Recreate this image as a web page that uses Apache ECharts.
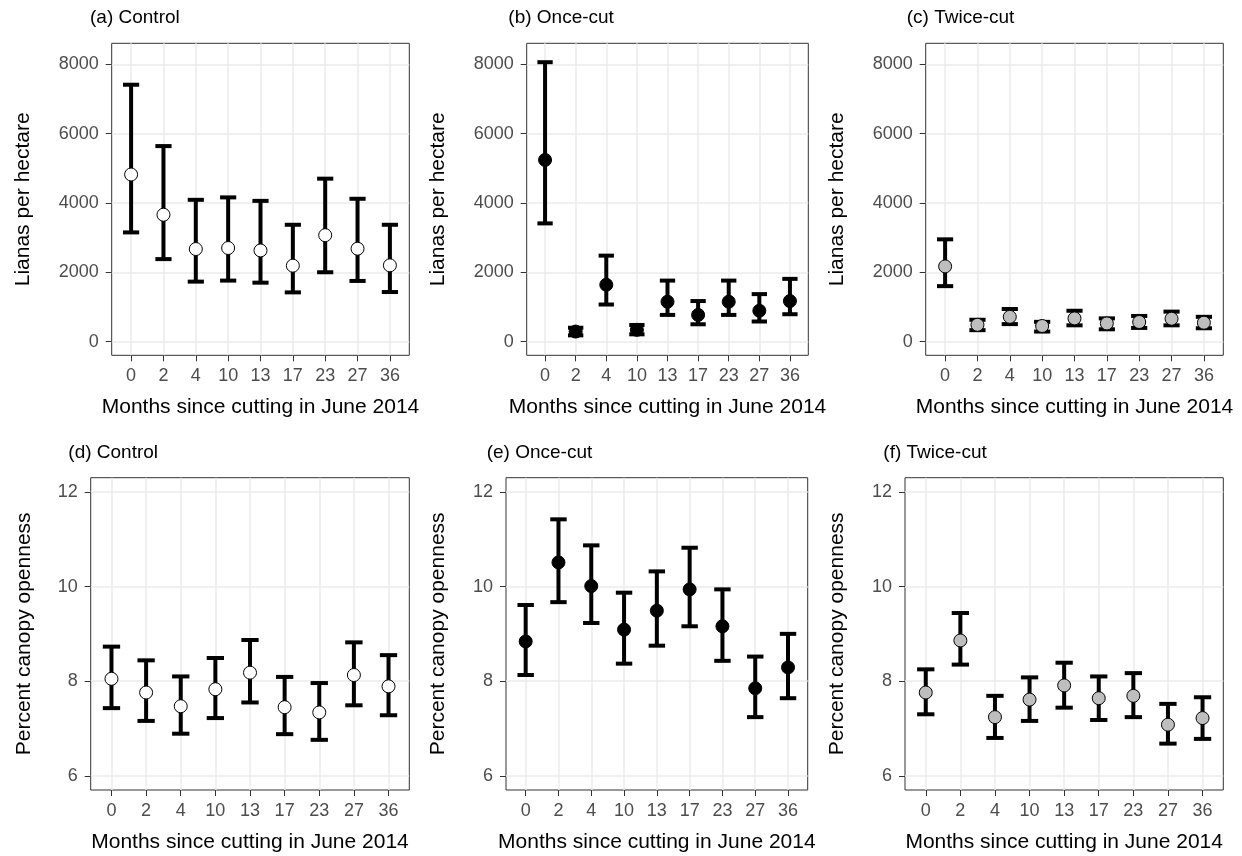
<!DOCTYPE html>
<html>
<head>
<meta charset="utf-8">
<script src="https://cdn.jsdelivr.net/npm/echarts@6/dist/echarts.min.js"></script>
<style>
  html, body { margin: 0; padding: 0; background: #ffffff; }
  #chart { width: 1242px; height: 856px; }
</style>
</head>
<body>
<div id="chart"></div>
<script>
// ---------- data ----------
const months = ['0', '2', '4', '10', '13', '17', '23', '27', '36'];

const lianaTicks = [0, 2000, 4000, 6000, 8000];
const canopyTicks = [6, 8, 10, 12];

const controlLianasMean  = [4820, 3660, 2670, 2700, 2630, 2190, 3070, 2680, 2200];
const controlLianasLower = [3150, 2380, 1730, 1760, 1700, 1420, 2000, 1750, 1430];
const controlLianasUpper = [7410, 5640, 4090, 4160, 4060, 3370, 4700, 4120, 3370];

const onceLianasMean  = [5240, 290, 1640, 340, 1150, 770, 1150, 890, 1170];
const onceLianasLower = [3410, 180, 1070, 210, 770, 500, 770, 580, 790];
const onceLianasUpper = [8060, 400, 2480, 480, 1760, 1170, 1760, 1370, 1810];

const twiceLianasMean  = [2170, 485, 715, 450, 670, 525, 565, 660, 545];
const twiceLianasLower = [1600, 330, 505, 290, 470, 355, 395, 470, 385];
const twiceLianasUpper = [2950, 630, 940, 570, 890, 670, 740, 865, 715];

const controlCanopyMean  = [8.05, 7.76, 7.47, 7.83, 8.18, 7.45, 7.34, 8.13, 7.89];
const controlCanopyLower = [7.43, 7.16, 6.89, 7.22, 7.55, 6.88, 6.76, 7.49, 7.28];
const controlCanopyUpper = [8.73, 8.44, 8.10, 8.49, 8.87, 8.09, 7.96, 8.82, 8.55];

const onceCanopyMean  = [8.84, 10.51, 10.01, 9.09, 9.49, 9.94, 9.16, 7.85, 8.29];
const onceCanopyLower = [8.13, 9.67, 9.23, 8.37, 8.75, 9.16, 8.43, 7.24, 7.64];
const onceCanopyUpper = [9.61, 11.42, 10.87, 9.87, 10.32, 10.82, 9.94, 8.52, 9.00];

const twiceCanopyMean  = [7.76, 8.86, 7.24, 7.61, 7.91, 7.64, 7.69, 7.08, 7.22];
const twiceCanopyLower = [7.30, 8.35, 6.80, 7.16, 7.44, 7.18, 7.24, 6.68, 6.78];
const twiceCanopyUpper = [8.25, 9.44, 7.69, 8.08, 8.39, 8.10, 8.17, 7.52, 7.66];

const panelTitles = ['(a) Control', '(b) Once-cut', '(c) Twice-cut',
                     '(d) Control', '(e) Once-cut', '(f) Twice-cut'];
const xTitle = 'Months since cutting in June 2014';
const yTitleLianas = 'Lianas per hectare';
const yTitleCanopy = 'Percent canopy openness';

// ---------- layout / style ----------
const FONT = '"Liberation Sans", Arial, Helvetica, sans-serif';
const panels = [
  { grid: { left: 111.7, top: 43.3, width: 297.6, height: 312 }, title: [90, 18],
    mean: controlLianasMean, lo: controlLianasLower, hi: controlLianasUpper, fill: '#ffffff',
    yMin: -395, yMax: 8605, ticks: lianaTicks, yName: yTitleLianas, yGap: 88 },
  { grid: { left: 526.7, top: 43.3, width: 281.6, height: 312 }, title: [508.3, 18],
    mean: onceLianasMean, lo: onceLianasLower, hi: onceLianasUpper, fill: '#000000',
    yMin: -395, yMax: 8605, ticks: lianaTicks, yName: yTitleLianas, yGap: 88 },
  { grid: { left: 925.7, top: 43.3, width: 297.6, height: 312 }, title: [906.7, 18],
    mean: twiceLianasMean, lo: twiceLianasLower, hi: twiceLianasUpper, fill: '#bebebe',
    yMin: -395, yMax: 8605, ticks: lianaTicks, yName: yTitleLianas, yGap: 88 },
  { grid: { left: 90.7, top: 477.7, width: 318.6, height: 312.3 }, title: [68.3, 453],
    mean: controlCanopyMean, lo: controlCanopyLower, hi: controlCanopyUpper, fill: '#ffffff',
    yMin: 5.7, yMax: 12.3, ticks: canopyTicks, yName: yTitleCanopy, yGap: 66 },
  { grid: { left: 506, top: 477.7, width: 301.7, height: 312.3 }, title: [486.7, 453],
    mean: onceCanopyMean, lo: onceCanopyLower, hi: onceCanopyUpper, fill: '#000000',
    yMin: 5.7, yMax: 12.3, ticks: canopyTicks, yName: yTitleCanopy, yGap: 68 },
  { grid: { left: 905, top: 477.7, width: 318.3, height: 312.3 }, title: [883.3, 453],
    mean: twiceCanopyMean, lo: twiceCanopyLower, hi: twiceCanopyUpper, fill: '#bebebe',
    yMin: 5.7, yMax: 12.3, ticks: canopyTicks, yName: yTitleCanopy, yGap: 68 }
];

const xIdx = months.map((m, i) => i);
const CAP_HALF = 0.25;

const grids = [], xAxes = [], yAxes = [], series = [], graphics = [];

panels.forEach((p, k) => {
  grids.push(Object.assign({ show: true, borderColor: '#333333', borderWidth: 1,
    backgroundColor: '#ffffff', containLabel: false }, p.grid));

  xAxes.push({
    type: 'value', gridIndex: k, min: -0.6, max: 8.6, position: 'bottom',
    name: xTitle, nameLocation: 'middle', nameGap: 52,
    nameTextStyle: { fontFamily: FONT, fontSize: 21, color: '#000000', verticalAlign: 'middle' },
    axisLine: { show: false, onZero: false },
    axisTick: { show: true, length: 6, customValues: xIdx,
      lineStyle: { color: '#333333', width: 1 } },
    axisLabel: { show: true, customValues: xIdx, margin: 12,
      fontFamily: FONT, fontSize: 18, color: '#4d4d4d',
      formatter: v => months[Math.round(v)] },
    splitLine: { show: true, lineStyle: { color: '#ebebeb', width: 1.5 } }
  });

  yAxes.push({
    type: 'value', gridIndex: k, min: p.yMin, max: p.yMax, position: 'left',
    name: p.yName, nameLocation: 'middle', nameGap: p.yGap, nameRotate: 90,
    nameTextStyle: { fontFamily: FONT, fontSize: 21, color: '#000000', verticalAlign: 'middle' },
    axisLine: { show: false, onZero: false },
    axisTick: { show: true, length: 6, customValues: p.ticks,
      lineStyle: { color: '#333333', width: 1 } },
    axisLabel: { show: true, customValues: p.ticks, margin: 13,
      fontFamily: FONT, fontSize: 18, color: '#4d4d4d',
      formatter: v => String(v) },
    splitLine: { show: true, lineStyle: { color: '#ebebeb', width: 1.5 } }
  });

  series.push({
    type: 'custom', xAxisIndex: k, yAxisIndex: k, z: 2, silent: true,
    data: xIdx.map(i => [i, p.lo[i], p.hi[i]]),
    renderItem: function (params, api) {
      const x = api.value(0), lo = api.value(1), hi = api.value(2);
      const pHi = api.coord([x, hi]);
      const pLo = api.coord([x, lo]);
      const half = (api.coord([x + CAP_HALF, hi])[0] - api.coord([x - CAP_HALF, hi])[0]) / 2;
      const st = { stroke: '#000000', lineWidth: 4, lineCap: 'butt' };
      return {
        type: 'group',
        children: [
          { type: 'line', shape: { x1: pHi[0], y1: pHi[1], x2: pLo[0], y2: pLo[1] }, style: st },
          { type: 'line', shape: { x1: pHi[0] - half, y1: pHi[1], x2: pHi[0] + half, y2: pHi[1] }, style: st },
          { type: 'line', shape: { x1: pLo[0] - half, y1: pLo[1], x2: pLo[0] + half, y2: pLo[1] }, style: st }
        ]
      };
    }
  });

  series.push({
    type: 'scatter', xAxisIndex: k, yAxisIndex: k, z: 3, silent: true,
    symbol: 'circle', symbolSize: 13,
    itemStyle: { color: p.fill, borderColor: '#000000', borderWidth: 1, opacity: 1 },
    data: xIdx.map(i => [i, p.mean[i]])
  });

  graphics.push({
    type: 'text', x: p.title[0], y: p.title[1], silent: true,
    style: { text: panelTitles[k], fontFamily: FONT, fontSize: 19, fill: '#000000',
      align: 'left', verticalAlign: 'middle' }
  });
});

const chart = echarts.init(document.getElementById('chart'), null, { renderer: 'canvas' });
chart.setOption({
  backgroundColor: '#ffffff',
  animation: false,
  grid: grids,
  xAxis: xAxes,
  yAxis: yAxes,
  series: series,
  graphic: graphics
});
</script>
</body>
</html>
